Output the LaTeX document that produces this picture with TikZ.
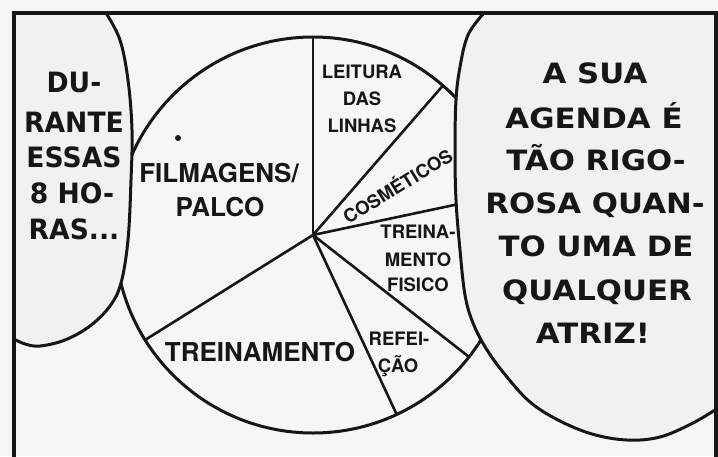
\documentclass[tikz,border=0pt]{standalone}
\usepackage{fontspec}
\newfontfamily\letterfont{DejaVu Sans}
\newfontfamily\piefont{TeX Gyre Heros}
\definecolor{paper}{HTML}{F6F6F6}
\definecolor{balloonfill}{HTML}{F1F1F1}
\definecolor{ink}{HTML}{161616}
\tikzset{
  outline/.style={draw=ink, line width=3pt, line cap=round, line join=round},
  spoke/.style={draw=ink, line width=2.6pt},
  frameline/.style={draw=ink, line width=4.8pt, line join=miter},
  balloontext/.style={font=\letterfont\bfseries\fontsize{28}{34}\selectfont, text=ink, anchor=base, inner sep=0pt},
  pielabel/.style={font=\piefont\bfseries\fontsize{18.5}{22}\selectfont, text=ink, anchor=base, inner sep=0pt},
  biglabel/.style={font=\piefont\bfseries\fontsize{26}{30}\selectfont, text=ink, anchor=base, inner sep=0pt},
}
\begin{document}
\begin{tikzpicture}[x=1pt,y=-1pt]
\useasboundingbox (0,0) rectangle (718,456);
\fill[paper] (0,0) rectangle (718,456);

% pie chart
\node[circle, draw=ink, line width=3pt, fill=paper, minimum size=396pt, inner sep=0pt, outer sep=0pt] (pie) at (313,235) {};
\node[circle, fill=ink, inner sep=0pt, minimum size=6pt] (dot) at (178,138) {};
\draw[spoke] (pie.center) -- (pie.90);
\draw[spoke] (pie.center) -- (pie.49.3);
\draw[spoke] (pie.center) -- (pie.12.6);
\draw[spoke] (pie.center) -- (pie.-38.2);
\draw[spoke] (pie.center) -- (pie.-65.8);
\draw[spoke] (pie.center) -- (pie.212.5);

% pie labels
\node[biglabel] (filmagens) at (219,182) {FILMAGENS/};
\node[biglabel] (palco) at (220,216) {PALCO};
\node[biglabel] (treinamento) at (260,361) {TREINAMENTO};
\node[pielabel] (leitura) at (362,78.5) {LEITURA};
\node[pielabel] (das) at (362,105) {DAS};
\node[pielabel] (linhas) at (362,132.5) {LINHAS};
\node[pielabel, anchor=center, rotate=31.5] (cosmeticos) at (397,185) {COSMÉTICOS};
\node[pielabel] (treina) at (418,238) {TREINA-};
\node[pielabel] (mento) at (418,266) {MENTO};
\node[pielabel] (fisico) at (418,291) {FISICO};
\node[pielabel] (refei) at (399,345) {REFEI-};
\node[pielabel] (cao) at (398,372) {ÇÃO};

% left balloon
\fill[balloonfill] plot[smooth, tension=0.6] coordinates {(106,13) (120,40) (128,80) (132,130) (131,180) (128,240) (121,283) (110,306) (90,326) (65,340) (40,346) (25,344) (14,339)} -- (14,13) -- cycle;
\draw[outline] plot[smooth, tension=0.6] coordinates {(106,13) (120,40) (128,80) (132,130) (131,180) (128,240) (121,283) (110,306) (90,326) (65,340) (40,346) (25,344) (14,339)};

% right balloon
\fill[balloonfill] plot[smooth, tension=0.6] coordinates {(484,13) (468,35) (460,67) (456,100) (455,150) (456,200) (460,250) (465,295) (473,323) (487,350) (507,377) (530,402) (558,420) (592,434) (627,440) (660,437) (693,423) (718,408)} -- (718,13) -- cycle;
\draw[outline] plot[smooth, tension=0.6] coordinates {(484,13) (468,35) (460,67) (456,100) (455,150) (456,200) (460,250) (465,295) (473,323) (487,350) (507,377) (530,402) (558,420) (592,434) (627,440) (660,437) (693,423) (718,408)};

% balloon texts
\node[balloontext, xscale=0.95] (l1) at (74,92) {DU-};
\node[balloontext, xscale=0.95] (l2) at (74,132) {RANTE};
\node[balloontext, xscale=0.95] (l3) at (74,167) {ESSAS};
\node[balloontext, xscale=0.95] (l4) at (72,203) {8 HO-};
\node[balloontext, xscale=0.95] (l5) at (74,239) {RAS...};

\node[balloontext, xscale=1.1] (r1) at (595,83) {A SUA};
\node[balloontext, xscale=1.1] (r2) at (594,128) {AGENDA É};
\node[balloontext, xscale=1.1] (r3) at (596,170) {TÃO RIGO-};
\node[balloontext, xscale=1.1] (r4) at (595,213) {ROSA QUAN-};
\node[balloontext, xscale=1.1] (r5) at (596,256) {TO UMA DE};
\node[balloontext, xscale=1.1] (r6) at (597,300) {QUALQUER};
\node[balloontext, xscale=1.1] (r7) at (593,343) {ATRIZ!};

% panel frame
\draw[frameline] (14,470) -- (14,13) -- (716,13) -- (716,470);
\end{tikzpicture}
\end{document}
